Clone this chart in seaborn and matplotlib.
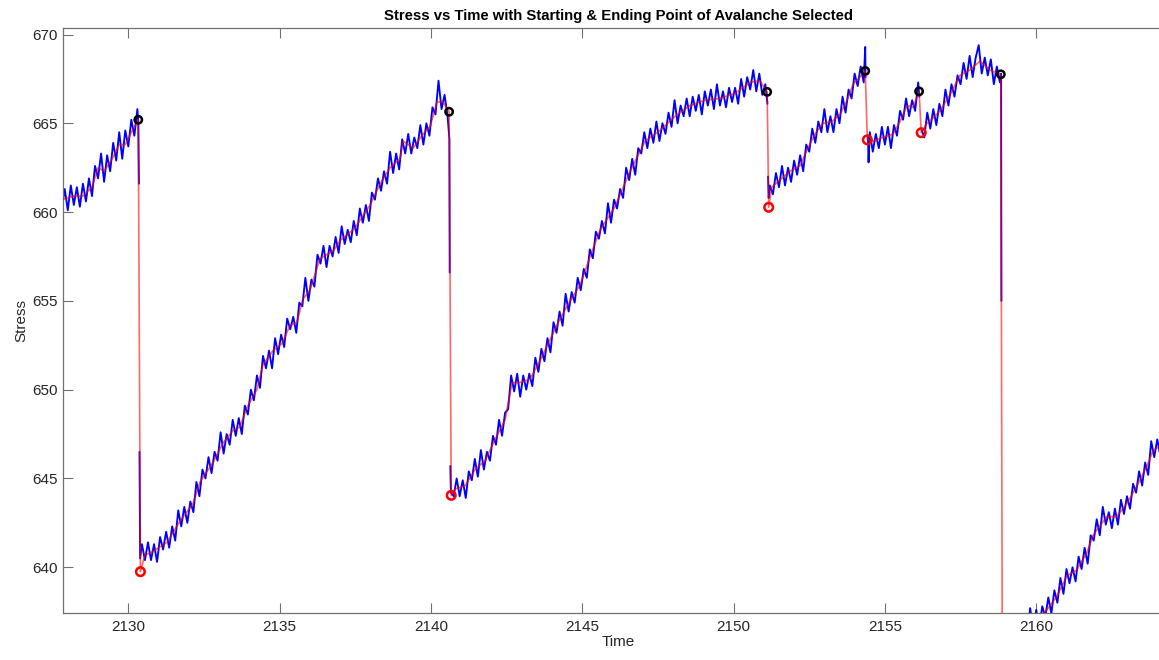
import numpy as np
import pandas as pd
import matplotlib
matplotlib.use("Agg")
import matplotlib.pyplot as plt
import seaborn as sns

# ---------------------------------------------------------------------------
# Raw stress signal: one list per loading ramp, sampled every 0.1 time units
# ---------------------------------------------------------------------------
SAMPLE_STEP = 0.1
raw_ramp_start = [2127.8, 2130.45, 2140.75, 2151.2, 2154.5, 2156.3, 2159.6]

raw_ramp1 = [660.2, 661.3, 660.1, 661.5, 660.4, 661.4, 660.3, 661.6, 660.6, 661.9,
             660.9, 662.6, 661.9, 663.3, 661.7, 663.2, 662.3, 663.9, 662.9, 664.5,
             663.0, 664.6, 663.7, 665.2, 664.3, 665.8]

raw_ramp2 = [641.3, 640.4, 641.4, 640.4, 641.3, 640.3, 641.7, 641.0, 642.0, 641.1,
             642.3, 641.5, 643.2, 642.3, 643.4, 642.5, 643.7, 643.1, 644.8, 644.0,
             645.5, 645.0, 646.2, 645.3, 646.5, 646.0, 647.6, 646.4, 647.5, 646.9,
             648.3, 647.4, 648.4, 647.5, 649.1, 648.6, 650.0, 649.4, 650.8, 650.1,
             651.9, 651.2, 652.2, 651.2, 652.9, 652.0, 653.1, 652.4, 654.0, 653.4,
             654.1, 653.2, 654.9, 654.7, 656.3, 655.0, 656.2, 655.8, 657.6, 657.1,
             658.1, 656.9, 658.1, 657.5, 658.6, 657.7, 659.2, 658.2, 659.0, 658.3,
             659.5, 658.7, 660.2, 659.4, 660.4, 659.5, 661.1, 660.7, 661.9, 661.2,
             662.3, 661.6, 663.4, 662.2, 663.3, 662.4, 664.1, 663.3, 664.4, 663.3,
             664.2, 663.6, 664.9, 663.8, 665.0, 664.3, 665.9, 665.5, 667.4, 665.8,
             666.6, 665.4]

raw_ramp3 = [644.0, 645.0, 644.0, 644.9, 643.9, 645.4, 644.9, 646.1, 645.1, 646.6,
             645.5, 646.5, 646.0, 647.4, 646.9, 648.3, 647.4, 648.7, 648.9, 650.8,
             649.9, 650.9, 649.6, 650.8, 650.0, 650.9, 650.2, 651.8, 651.0, 652.3,
             651.6, 652.9, 652.1, 653.8, 653.2, 654.4, 653.6, 655.4, 654.4, 655.5,
             654.9, 656.3, 655.6, 656.8, 656.3, 657.9, 657.4, 658.9, 658.5, 659.5,
             658.8, 660.5, 659.4, 660.7, 660.2, 661.3, 660.8, 662.5, 661.8, 663.0,
             662.1, 663.6, 663.3, 664.5, 663.6, 664.7, 663.9, 665.1, 664.0, 665.0,
             664.4, 665.6, 664.8, 666.3, 665.0, 666.0, 665.4, 666.4, 665.4, 666.5,
             665.7, 666.6, 665.5, 666.8, 666.0, 666.9, 665.8, 667.2, 666.0, 666.8,
             665.9, 667.0, 666.2, 667.0, 666.1, 667.5, 666.5, 667.6, 666.9, 668.0,
             666.8, 667.8, 666.6, 667.2]

raw_ramp4 = [661.5, 661.0, 662.2, 661.4, 662.6, 661.5, 662.5, 661.7, 662.9, 662.1,
             663.2, 662.3, 663.8, 663.4, 664.7, 663.9, 665.1, 664.5, 665.8, 664.5,
             665.4, 664.5, 665.8, 665.0, 666.5, 665.6, 666.9, 666.4, 667.8, 667.1,
             668.2, 667.3]

raw_ramp5 = [664.5, 663.4, 664.4, 663.6, 664.8, 663.8, 664.8, 663.6, 664.9, 664.3,
             665.7, 665.2, 666.4, 665.4, 666.3, 665.7, 667.3]

raw_ramp6 = [664.2, 665.6, 664.7, 665.8, 664.9, 666.1, 665.4, 666.9, 666.0, 667.2,
             666.5, 667.7, 667.2, 668.4, 667.5, 668.8, 667.6, 668.7, 669.4, 667.8,
             668.7, 667.7, 668.6, 667.2, 668.2, 667.3]

raw_ramp7 = [636.8, 636.1, 637.7, 636.4, 637.6, 636.6, 637.8, 637.2, 638.3, 637.4,
             638.7, 638.0, 639.4, 638.5, 639.9, 639.1, 640.0, 639.2, 640.6, 639.9,
             641.1, 640.2, 641.8, 641.5, 642.7, 641.8, 643.4, 642.4, 643.1, 642.2,
             643.3, 642.4, 643.8, 643.0, 644.0, 643.3, 644.7, 644.2, 645.4, 644.6,
             645.9, 645.2, 647.1, 646.2, 647.2, 646.3, 647.3, 646.4, 647.6, 646.9]

# Fast samples recorded during each stress drop (before / after each ramp)
drop_head_time = [[], [2130.37, 2130.39], [2140.64, 2140.66], [2151.14, 2151.16],
                  [2154.44, 2154.46], [2156.22], []]
drop_head_stress = [[], [646.5, 640.5], [645.7, 644.2], [662.0, 660.8],
                    [664.3, 662.8], [664.6], []]
drop_tail_time = [[2130.33, 2130.35], [2140.61, 2140.62], [2151.12],
                  [2154.35, 2154.36], [2156.14], [2158.84, 2158.85], []]
drop_tail_stress = [[665.1, 661.6], [664.1, 656.6], [666.1],
                    [669.3, 667.6], [666.5], [667.8, 655.0], []]

# ---------------------------------------------------------------------------
# Smoothed stress trace
# ---------------------------------------------------------------------------
smooth_time = [2127.8, 2128.2, 2128.5, 2128.8, 2129.0, 2129.2, 2129.45, 2129.7, 2129.9, 2130.1,
               2130.55, 2130.72, 2131.28, 2131.71, 2132.14, 2132.37, 2132.8, 2133.13, 2133.46,
               2133.69, 2133.92, 2134.25, 2134.45, 2134.78, 2135.08, 2135.34, 2135.57, 2135.77,
               2136.0, 2136.34, 2136.77, 2137.0, 2137.49, 2137.99, 2138.32, 2138.65, 2138.98,
               2139.08, 2139.41, 2139.74, 2139.97, 2140.2, 2140.4,
               2140.79, 2141.13, 2141.46, 2141.79, 2142.12, 2142.45, 2142.68, 2142.94, 2143.27,
               2143.6, 2143.93, 2144.27, 2144.6, 2144.93, 2145.26, 2145.59, 2146.08, 2146.58,
               2147.08, 2147.57, 2148.07, 2148.56, 2149.06, 2149.55, 2150.05, 2150.55, 2150.87,
               2151.26, 2151.53, 2151.86, 2152.19, 2152.43, 2152.69, 2152.95, 2153.25, 2153.52,
               2153.75, 2153.95, 2154.18,
               2154.61, 2154.94, 2155.27, 2155.5, 2155.73, 2155.93,
               2156.39, 2156.59, 2156.82, 2157.15, 2157.48, 2157.81, 2158.14, 2158.47,
               2159.4, 2159.9, 2160.35, 2160.68, 2161.01, 2161.34, 2161.67, 2161.88, 2162.33,
               2162.66, 2163.0, 2163.32, 2163.66, 2163.87, 2164.3, 2164.6]
smooth_stress = [660.7, 660.9, 660.9, 661.4, 662.5, 662.3, 662.95, 663.8, 663.8, 664.5,
                 640.7, 640.8, 641.4, 642.6, 643.6, 644.8, 645.9, 647.0, 647.7,
                 647.9, 649.0, 650.0, 651.4, 652.2, 652.6, 653.6, 653.8, 655.1,
                 655.6, 657.4, 657.8, 658.4, 659.1, 660.4, 661.6, 662.5, 663.0,
                 664.0, 663.6, 664.4, 664.8, 666.2, 666.2,
                 644.4, 644.6, 645.5, 646.0, 647.2, 648.3, 650.4, 650.4, 650.6,
                 651.6, 652.8, 654.0, 655.0, 655.9, 657.5, 659.0, 660.3, 662.3,
                 664.0, 664.6, 665.4, 666.0, 666.3, 666.4, 666.7, 667.3, 667.4,
                 661.4, 661.8, 662.3, 662.6, 663.5, 664.4, 665.0, 665.1, 665.5,
                 666.3, 667.2, 667.6,
                 664.0, 664.2, 664.4, 665.1, 666.0, 665.9,
                 665.0, 665.3, 665.7, 666.6, 667.7, 668.0, 668.5, 668.0,
                 635.6, 636.9, 637.6, 638.35, 639.5, 639.85, 640.8, 641.8, 642.85,
                 642.85, 643.6, 644.55, 645.7, 646.6, 647.0, 647.4]

# Selected avalanche start / end points
avalanche_start_time = [2130.33, 2140.60, 2151.11, 2154.35, 2156.13, 2158.83]
avalanche_start_stress = [665.2, 665.65, 666.77, 667.95, 666.8, 667.76]
avalanche_end_time = [2130.40, 2140.67, 2151.16, 2154.42, 2156.20, 2158.88]
avalanche_end_stress = [639.75, 644.05, 660.27, 664.07, 664.47, 634.0]

x_ticks = [2130, 2135, 2140, 2145, 2150, 2155, 2160]
y_ticks = [640, 645, 650, 655, 660, 665, 670]

# ---------------------------------------------------------------------------
# Tables
# ---------------------------------------------------------------------------
raw_ramps = [raw_ramp1, raw_ramp2, raw_ramp3, raw_ramp4, raw_ramp5, raw_ramp6, raw_ramp7]
pieces = []
for k, (start, vals) in enumerate(zip(raw_ramp_start, raw_ramps)):
    t = np.round(start + SAMPLE_STEP * np.arange(len(vals)), 3)
    time = np.concatenate([drop_head_time[k], t, drop_tail_time[k]])
    stress = np.concatenate([drop_head_stress[k], vals, drop_tail_stress[k]])
    pieces.append(pd.DataFrame({"time": time, "stress": stress, "piece": k}))
raw_df = pd.concat(pieces, ignore_index=True)

smooth_df = pd.DataFrame({
    "time": smooth_time + avalanche_start_time + avalanche_end_time,
    "stress": smooth_stress + avalanche_start_stress + avalanche_end_stress,
}).sort_values("time", kind="stable").reset_index(drop=True)

start_df = pd.DataFrame({"time": avalanche_start_time, "stress": avalanche_start_stress})
end_df = pd.DataFrame({"time": avalanche_end_time, "stress": avalanche_end_stress})

# ---------------------------------------------------------------------------
# Figure
# ---------------------------------------------------------------------------
sns.set_style("white")
plt.rcParams["font.family"] = ["Liberation Sans", "DejaVu Sans"]

W, H = 1159, 660
fig = plt.figure(figsize=(W / 100, H / 100), dpi=100)
ax = fig.add_axes([63.3 / W, 1 - 612.7 / H, (1173 - 63.3) / W, (612.7 - 28.3) / H])

sns.lineplot(data=raw_df, x="time", y="stress", units="piece", estimator=None,
             sort=False, color=(0, 0, 1), linewidth=1.35, ax=ax, zorder=2)
sns.lineplot(data=smooth_df, x="time", y="stress", estimator=None, sort=False,
             color=(1, 0, 0), alpha=0.6, linewidth=1.2, ax=ax, zorder=3)
sns.scatterplot(data=start_df, x="time", y="stress", marker="o", s=28,
                facecolors="none", edgecolor="black", linewidth=1.8, ax=ax, zorder=5)
sns.scatterplot(data=end_df, x="time", y="stress", marker="o", s=38,
                facecolors="none", edgecolor="red", linewidth=1.8, ax=ax, zorder=4)

ax.set_xlim(2127.852, 2164.52)
ax.set_ylim(637.44, 670.35)
ax.set_xticks(x_ticks)
ax.set_yticks(y_ticks)

axis_gray = "#707070"
text_gray = "#262626"
for side in ["left", "top", "bottom"]:
    ax.spines[side].set_color(axis_gray)
    ax.spines[side].set_linewidth(0.9)
ax.spines["right"].set_visible(False)
ax.tick_params(axis="both", direction="in", length=7, width=0.8, color=axis_gray,
               labelsize=11, labelcolor=text_gray, top=True, bottom=True, left=True)
ax.tick_params(axis="x", pad=5)
ax.tick_params(axis="y", pad=4)

ax.set_title("Stress vs Time with Starting & Ending Point of Avalanche Selected",
             fontsize=10.7, fontweight="bold", color="black", pad=6)
ax.set_xlabel("Time", fontsize=11, color=text_gray, labelpad=1)
ax.set_ylabel("Stress", fontsize=11, color=text_gray, labelpad=3)

fig.savefig("out.png", dpi=100)
